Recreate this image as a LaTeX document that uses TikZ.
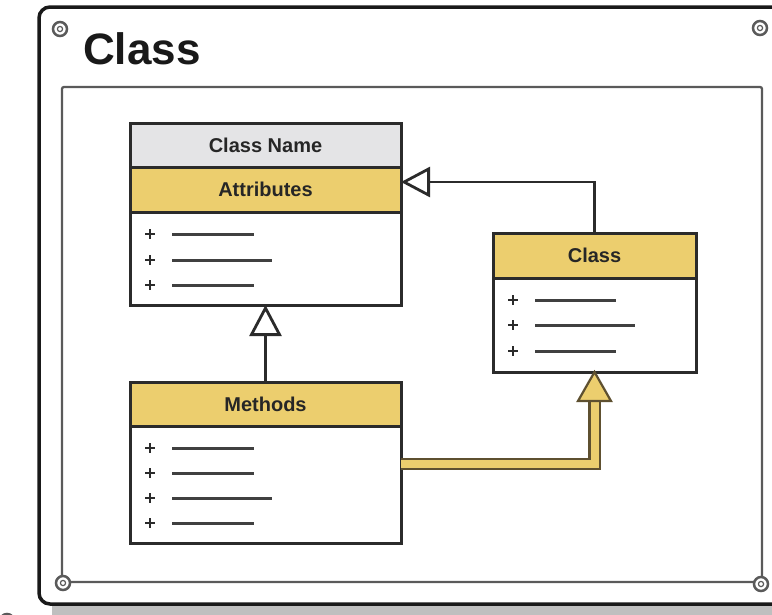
\documentclass[tikz,border=0pt]{standalone}
\usepackage{fontspec}
\setmainfont{Liberation Sans}
\usetikzlibrary{arrows.meta,calc}
\definecolor{uyel}{HTML}{ECCE6E}
\definecolor{ugray}{HTML}{E4E4E6}
\definecolor{uline}{HTML}{2B2B2B}
\definecolor{udbl}{HTML}{5E5030}
\definecolor{uframe}{HTML}{5A5A5A}
\begin{document}
\begin{tikzpicture}[x=1pt,y=-1pt,
  box/.style={draw=uline, line width=3pt, inner sep=0pt, outer sep=0pt,
    font=\fontsize{20}{24}\selectfont\bfseries, text=black!85},
  wide/.style={box, minimum width=271pt},
  narrow/.style={box, minimum width=203pt},
  conn/.style={draw=uline, line width=2.8pt},
  dbl/.style={draw=udbl, line width=2.2pt, double=uyel, double distance=8pt},
  plusmark/.style={draw=uline, line width=2.6pt},
  memberline/.style={draw=black!75, line width=3pt},
  title/.style={font=\fontsize{44}{48}\selectfont\bfseries, text=black!90, inner sep=0pt, anchor=base west}
]
\useasboundingbox (0,0) rectangle (772,614);
\clip (0,0) rectangle (772,614);
\fill[white] (0,0) rectangle (772,614);

% shadow and outer frame
\fill[black!25] (52,606) rectangle (790,620);
\draw[draw=black!90, line width=3.5pt, rounded corners=11pt] (39,7) rectangle (800,604);
\draw[draw=uframe, line width=2.5pt, fill=white] (7,621) circle (7);

% inner frame
\draw[draw=uframe, line width=2.3pt, rounded corners=2pt] (62,87) rectangle (762,582);

% screws
\foreach \p/\n in {{(60,29)}/s1,{(760,28)}/s2,{(63,583)}/s3,{(761,584)}/s4}{
  \node[circle, draw=uframe, line width=2.5pt, fill=white, minimum size=14pt, inner sep=0pt] (\n) at \p {};
  \draw[uframe, line width=1.2pt] (\n.center) circle (2.6);
}

% title
\node[title] (title) at (83,64) {Class};

% class box 1
\node[wide, fill=ugray, minimum height=44pt] (cn) at (265.5,145) {Class Name};
\node[wide, fill=uyel, minimum height=45pt] (attr) at (265.5,189.5) {Attributes};
\node[wide, fill=white, minimum height=93pt] (attrbody) at (265.5,258.5) {};

% class box 2
\node[narrow, fill=uyel, minimum height=45pt] (cls) at (594.5,255.5) {Class};
\node[narrow, fill=white, minimum height=94pt] (clsbody) at (594.5,325) {};

% class box 3
\node[wide, fill=uyel, minimum height=44pt] (meth) at (265.5,404) {Methods};
\node[wide, fill=white, minimum height=117pt] (methbody) at (265.5,484.5) {};

% members
\foreach \x/\y/\e in {150/234/254, 150/260/272, 150/285/254,
                      513/300/616, 513/325/635, 513/351/616,
                      150/448/254, 150/473/254, 150/498/272, 150/523/254}{
  \draw[plusmark] (\x-5,\y) -- (\x+5,\y) (\x,\y-5) -- (\x,\y+5);
  \draw[memberline] (\x+22,\y) -- (\e,\y);
}

% connectors
\draw[conn, -{Triangle[length=29pt,width=30pt,fill=white]}] (cls.north) |- ([yshift=7.5pt]attr.east);
\draw[conn, -{Triangle[length=31pt,width=32pt,fill=white]}] (meth.north) -- (attrbody.south);

\coordinate (dblbase) at ($(clsbody.south)+(0,26)$);
\draw[dbl] ([yshift=20.5pt]methbody.east) -| (dblbase);
\filldraw[fill=uyel, draw=udbl, line width=2.2pt, line join=miter] (clsbody.south) -- ++(-16.5,29) -- ++(33,0) -- cycle;
\end{tikzpicture}
\end{document}
